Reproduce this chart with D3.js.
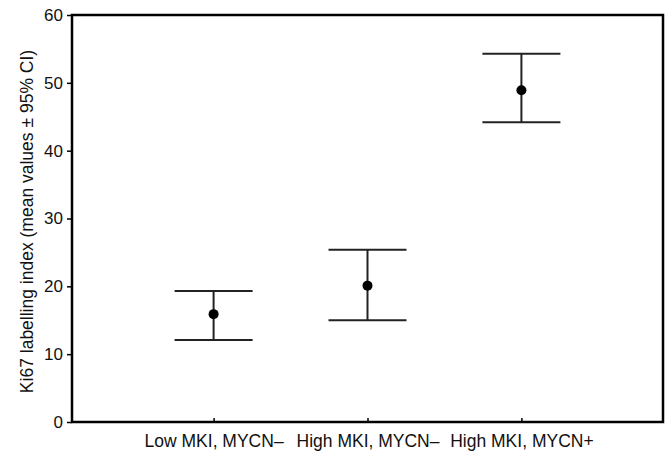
<!DOCTYPE html>
<html>
<head>
  <meta charset="utf-8">
  <script src="https://cdn.jsdelivr.net/npm/d3@7/dist/d3.min.js"></script>
  <style>
    body { margin: 0; background: #fff; }
    text { font-family: "Liberation Sans", Arial, sans-serif; fill: #111; }
  </style>
</head>
<body>
  <svg id="chart" width="667" height="461"></svg>
  <script>
    var groups = ["Low MKI, MYCN\u2013", "High MKI, MYCN\u2013", "High MKI, MYCN+"];
    var means = [15.9, 20.1, 48.9];
    var lower = [12.1, 15.0, 44.2];
    var upper = [19.3, 25.4, 54.3];
    var yTicks = [0, 10, 20, 30, 40, 50, 60];

    var svg = d3.select("#chart"),
      margin = { top: 15, right: 4, bottom: 39, left: 72 },
      width = +svg.attr("width") - margin.left - margin.right,
      height = +svg.attr("height") - margin.top - margin.bottom;

    var g = svg.append("g")
      .attr("transform", "translate(" + margin.left + "," + margin.top + ")");

    var x = d3.scalePoint()
      .domain(groups)
      .range([0, width])
      .padding(0.92);

    var y = d3.scaleLinear()
      .domain([0, 60])
      .range([height, 0]);

    // frame
    g.append("rect")
      .attr("width", width)
      .attr("height", height)
      .attr("fill", "none")
      .attr("stroke", "#000")
      .attr("stroke-width", 2.5);

    var yAxis = g.append("g")
      .call(d3.axisLeft(y).tickValues(yTicks).tickSize(5).tickPadding(4));
    yAxis.select(".domain").remove();
    yAxis.selectAll("line").attr("stroke", "#000").attr("stroke-width", 1.5);
    yAxis.selectAll("text").style("font-size", "17px");

    var xAxis = g.append("g")
      .attr("transform", "translate(0," + height + ")")
      .call(d3.axisBottom(x).tickSize(-4).tickPadding(13));
    xAxis.select(".domain").remove();
    xAxis.selectAll("line").attr("stroke", "#000").attr("stroke-width", 1.5);
    xAxis.selectAll("text").style("font-size", "17.5px");

    svg.append("text")
      .attr("transform", "translate(33," + (margin.top + height / 2 + 3) + ") rotate(-90)")
      .attr("text-anchor", "middle")
      .style("font-size", "17.5px")
      .text("Ki67 labelling index (mean values \u00b1 95% CI)");

    var capHalf = 39;
    var bars = g.selectAll(".err")
      .data(groups)
      .enter()
      .append("g")
      .attr("class", "err");

    bars.append("line")
      .attr("x1", d => x(d)).attr("x2", d => x(d))
      .attr("y1", (d, i) => y(upper[i])).attr("y2", (d, i) => y(lower[i]))
      .attr("stroke", "#222").attr("stroke-width", 2);

    bars.append("line")
      .attr("x1", d => x(d) - capHalf).attr("x2", d => x(d) + capHalf)
      .attr("y1", (d, i) => y(upper[i])).attr("y2", (d, i) => y(upper[i]))
      .attr("stroke", "#222").attr("stroke-width", 2);

    bars.append("line")
      .attr("x1", d => x(d) - capHalf).attr("x2", d => x(d) + capHalf)
      .attr("y1", (d, i) => y(lower[i])).attr("y2", (d, i) => y(lower[i]))
      .attr("stroke", "#222").attr("stroke-width", 2);

    bars.append("circle")
      .attr("cx", d => x(d))
      .attr("cy", (d, i) => y(means[i]))
      .attr("r", 5)
      .attr("fill", "#000");
  </script>
</body>
</html>
